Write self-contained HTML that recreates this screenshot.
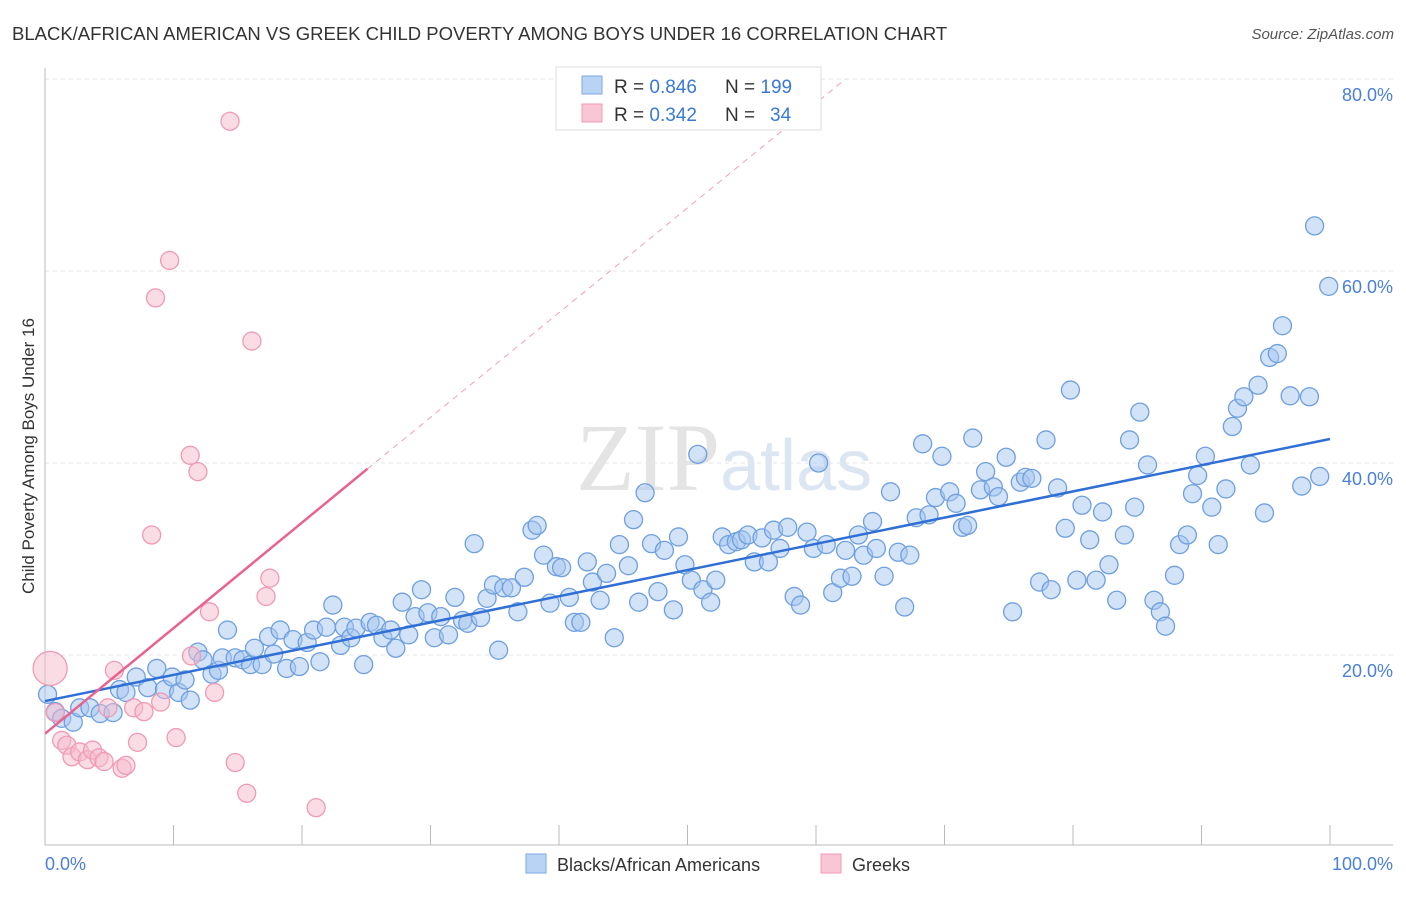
<!DOCTYPE html>
<html><head><meta charset="utf-8"><style>
body{margin:0;background:#fff;font-family:"Liberation Sans",sans-serif}
</style></head><body>
<svg id="c" width="1406" height="892" xmlns="http://www.w3.org/2000/svg" style="font-family:'Liberation Sans',sans-serif">
<text x="12" y="40" font-size="18.5" fill="#333">BLACK/AFRICAN AMERICAN VS GREEK CHILD POVERTY AMONG BOYS UNDER 16 CORRELATION CHART</text>
<text x="1394" y="39" font-size="15" fill="#555" text-anchor="end" font-style="italic">Source: ZipAtlas.com</text>
<text x="720" y="490" font-size="96" fill="#e4e4e4" text-anchor="end" font-family="Liberation Serif">ZIP</text>
<text x="720" y="490" font-size="72" fill="#dce6f3">atlas</text>
<g id="grid"></g>
<g id="axes"></g>
<g id="pts"></g>
<g id="lines"></g>
<text transform="translate(34,456) rotate(-90)" font-size="17" fill="#333" text-anchor="middle">Child Poverty Among Boys Under 16</text>
<g>
<rect x="556" y="67" width="265" height="63" fill="#fff" stroke="#ddd"/>
<rect x="582" y="76" width="20" height="18" fill="#b9d3f5" stroke="#7aa8e6"/>
<rect x="582" y="104" width="20" height="18" fill="#f9c6d5" stroke="#f09ab5"/>
<text x="614" y="93" font-size="19" fill="#333">R = <tspan fill="#3a78d8">0.846</tspan></text>
<text x="725" y="93" font-size="19" fill="#333">N = <tspan fill="#3a78d8">199</tspan></text>
<text x="614" y="121" font-size="19" fill="#333">R = <tspan fill="#3a78d8">0.342</tspan></text>
<text x="725" y="121" font-size="19" fill="#333">N = </text>
<text x="770" y="121" font-size="19" fill="#3a78d8">34</text>
</g>
<g>
<rect x="526" y="854" width="20" height="19" fill="#b9d3f5" stroke="#7aa8e6"/>
<text x="557" y="871" font-size="18" fill="#333">Blacks/African Americans</text>
<rect x="821" y="854" width="20" height="19" fill="#f9c6d5" stroke="#f09ab5"/>
<text x="852" y="871" font-size="18" fill="#333">Greeks</text>
</g>
</svg>
<script>
const yTicks=[20,40,60,80];
const yTickLabels=["20.0%","40.0%","60.0%","80.0%"];
const xTickLabels=["0.0%","100.0%"];
const blueX=[0.2,0.8,1.3,2.2,2.7,3.5,4.3,5.3,5.8,6.3,7.1,8.0,8.7,9.3,9.9,10.4,10.9,11.3,11.9,12.3,13.0,13.5,13.8,14.2,14.8,15.4,16.0,16.3,16.9,17.4,17.8,18.3,18.8,19.3,19.8,20.4,20.9,21.4,21.9,22.4,23.0,23.3,23.8,24.2,24.8,25.3,25.8,26.3,26.9,27.3,27.8,28.3,28.8,29.3,29.8,30.3,30.8,31.4,31.9,32.5,32.9,33.4,33.9,34.4,34.9,35.3,35.7,36.3,36.8,37.3,37.9,38.3,38.8,39.3,39.8,40.2,40.8,41.2,41.7,42.2,42.6,43.2,43.7,44.3,44.7,45.4,45.8,46.2,46.7,47.2,47.7,48.2,48.9,49.3,49.8,50.3,50.8,51.2,51.8,52.2,52.7,53.2,53.8,54.2,54.7,55.2,55.8,56.3,56.7,57.2,57.8,58.3,58.8,59.3,59.8,60.2,60.8,61.3,61.9,62.3,62.8,63.3,63.7,64.4,64.7,65.3,65.8,66.4,66.9,67.3,67.8,68.3,68.8,69.3,69.8,70.4,70.9,71.4,71.8,72.2,72.8,73.2,73.8,74.2,74.8,75.3,75.9,76.3,76.8,77.4,77.9,78.3,78.8,79.4,79.8,80.3,80.7,81.3,81.8,82.3,82.8,83.4,84.0,84.4,84.8,85.2,85.8,86.3,86.8,87.2,87.9,88.3,88.9,89.3,89.7,90.3,90.8,91.3,91.9,92.4,92.8,93.3,93.8,94.4,94.9,95.3,95.9,96.3,96.9,97.8,98.4,98.8,99.2,99.9];
const blueY=[15.9,14.1,13.4,13.0,14.5,14.5,13.9,14.0,16.4,16.1,17.7,16.6,18.6,16.4,17.7,16.1,17.4,15.3,20.3,19.5,18.0,18.4,19.7,22.6,19.7,19.5,19.0,20.7,19.0,21.9,20.1,22.6,18.6,21.6,18.8,21.3,22.6,19.3,22.9,25.2,21.0,22.9,21.8,22.8,19.0,23.4,23.1,21.8,22.6,20.7,25.5,22.1,24.0,26.8,24.4,21.8,24.0,22.1,26.0,23.6,23.3,31.6,23.9,25.9,27.3,20.5,27.0,27.0,24.5,28.1,33.0,33.5,30.4,25.4,29.2,29.1,26.0,23.4,23.4,29.7,27.6,25.7,28.5,21.8,31.5,29.3,34.1,25.5,36.9,31.6,26.6,30.9,24.7,32.3,29.4,27.8,40.9,26.8,25.5,27.8,32.3,31.5,31.8,32.0,32.5,29.7,32.2,29.7,33.0,31.1,33.3,26.1,25.2,32.8,31.1,40.0,31.5,26.5,28.0,30.9,28.2,32.5,30.4,33.9,31.1,28.2,37.0,30.7,25.0,30.4,34.3,42.0,34.6,36.4,40.7,37.0,35.8,33.3,33.5,42.6,37.2,39.1,37.5,36.5,40.6,24.5,38.0,38.5,38.4,27.6,42.4,26.8,37.4,33.2,47.6,27.8,35.6,32.0,27.8,34.9,29.4,25.7,32.5,42.4,35.4,45.3,39.8,25.7,24.5,23.0,28.3,31.5,32.5,36.8,38.7,40.7,35.4,31.5,37.3,43.8,45.7,46.9,39.8,48.1,34.8,51.0,51.4,54.3,47.0,37.6,46.9,64.7,38.6,58.4];
const pinkX=[0.4,0.8,1.3,1.7,2.1,2.7,3.3,3.7,4.2,4.6,4.9,5.4,6.0,6.3,6.9,7.2,7.7,8.3,8.6,9.0,9.7,10.2,11.3,11.4,11.9,12.8,13.2,14.4,14.8,15.7,16.1,17.2,17.5,21.1];
const pinkY=[18.6,14.0,11.1,10.6,9.4,9.9,9.1,10.1,9.3,8.9,14.5,18.4,8.2,8.5,14.5,10.9,14.1,32.5,57.2,15.1,61.1,11.4,40.8,19.9,39.1,24.5,16.1,75.6,8.8,5.6,52.7,26.1,28.0,4.1];
const pinkR=[17,9,9,9,9,9,9,9,9,9,9,9,9,9,9,9,9,9,9,9,9,9,9,9,9,9,9,9,9,9,9,9,9,9];
const blueTrend=[[0,15.2],[100,42.5]];
const pinkTrend=[[0,11.8],[25.1,39.4]];
const pinkDash=[[25.1,39.4],[62.3,80.0]];
const NS="http://www.w3.org/2000/svg";
const X=v=>45+v*12.85, Y=v=>847-v*9.6;
function mk(tag,at,parent){const e=document.createElementNS(NS,tag);for(const k in at)e.setAttribute(k,at[k]);parent.appendChild(e);return e;}
const grid=document.getElementById('grid'),axes=document.getElementById('axes'),pts=document.getElementById('pts'),lines=document.getElementById('lines');
yTicks.forEach((t,i)=>{
 const l=mk('line',{x1:45,x2:1393,y1:Y(t),y2:Y(t),stroke:'#e6e6e6','stroke-dasharray':'4,4'},grid);
 
 
 const tx=mk('text',{x:1393,y:Y(t)+22,'font-size':18,fill:'#4a7fd8','text-anchor':'end'},axes);
 tx.textContent=yTickLabels[i];
 
 
});
const topGrid=mk('line',{x1:45,x2:1393,y1:79,y2:79,stroke:'#e6e6e6','stroke-dasharray':'4,4'},grid);


const ya=mk('line',{x1:45,x2:45,y1:68,y2:845,stroke:'#bbb'},axes);


const xa=mk('line',{x1:45,x2:1393,y1:845,y2:845,stroke:'#bbb'},axes);


for(let i=0;i<=10;i++){
 const t=mk('line',{x1:X(i*10),x2:X(i*10),y1:825,y2:845,stroke:'#bbb'},axes);
 
 
}
const xl0=mk('text',{x:45,y:870,'font-size':18,fill:'#4a7fd8'},axes);xl0.textContent=xTickLabels[0];


const xl1=mk('text',{x:1393,y:870,'font-size':18,fill:'#4a7fd8','text-anchor':'end'},axes);xl1.textContent=xTickLabels[1];


blueX.forEach((x,i)=>{
 const c=mk('circle',{cx:X(x),cy:Y(blueY[i]),r:9,fill:'rgba(165,198,240,0.5)',stroke:'#6e9fe0','stroke-width':1.3},pts);
 
 
});
pinkX.forEach((x,i)=>{
 const c=mk('circle',{cx:X(x),cy:Y(pinkY[i]),r:pinkR[i],fill:'rgba(246,185,204,0.5)',stroke:'#f09ab5','stroke-width':1.3},pts);
 
 
});
const bl=mk('line',{x1:X(blueTrend[0][0]),y1:Y(blueTrend[0][1]),x2:X(blueTrend[1][0]),y2:Y(blueTrend[1][1]),stroke:'#2f6fd6','stroke-width':2.5},lines);


const pl=mk('line',{x1:X(pinkTrend[0][0]),y1:Y(pinkTrend[0][1]),x2:X(pinkTrend[1][0]),y2:Y(pinkTrend[1][1]),stroke:'#e8638f','stroke-width':2.5},lines);


const pd=mk('line',{x1:X(pinkDash[0][0]),y1:Y(pinkDash[0][1]),x2:X(pinkDash[1][0]),y2:Y(pinkDash[1][1]),stroke:'#f0a0b8','stroke-width':1,'stroke-dasharray':'6,5'},lines);


</script>
</body></html>
